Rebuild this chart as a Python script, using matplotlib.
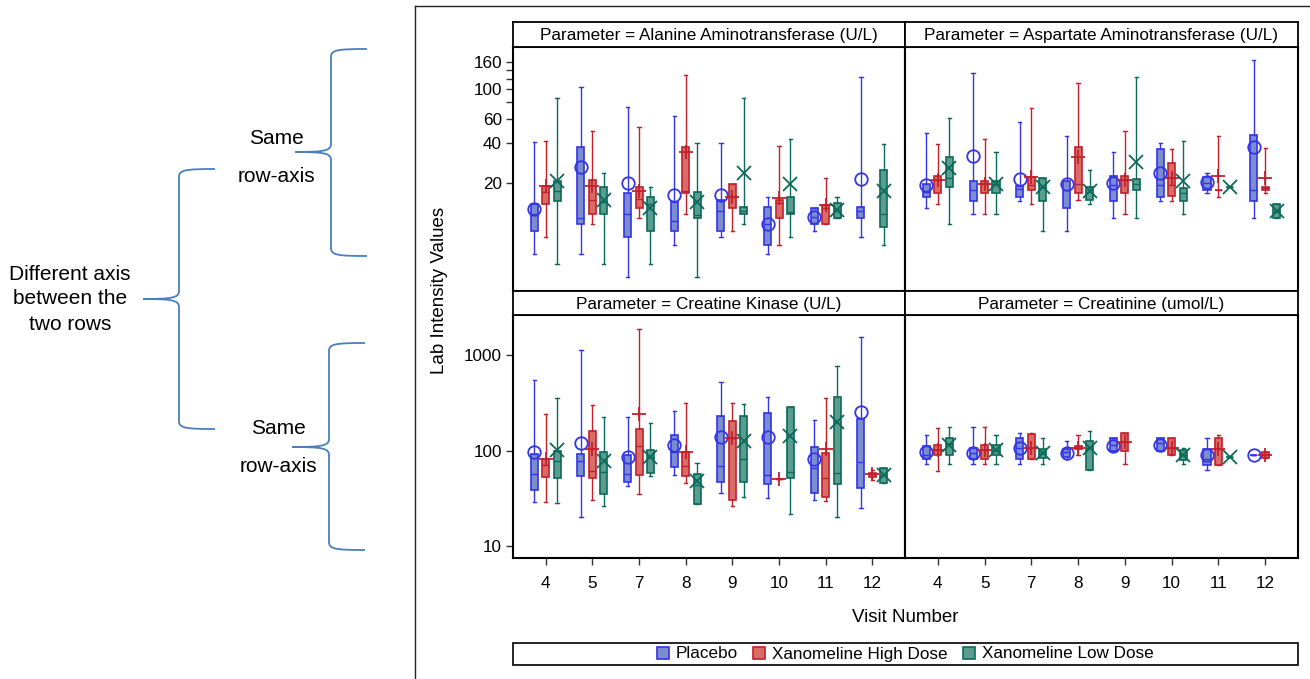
import matplotlib
matplotlib.use('Agg')
import matplotlib.pyplot as plt
from matplotlib.patches import Patch, Rectangle, PathPatch
from matplotlib.path import Path
from matplotlib.lines import Line2D
from matplotlib.transforms import Affine2D

plt.rcParams['font.family'] = ['Liberation Sans', 'DejaVu Sans']

W, H = 1310, 679

visits = ['4', '5', '7', '8', '9', '10', '11', '12']
groups = ['Placebo', 'Xanomeline High Dose', 'Xanomeline Low Dose']

# per visit: (whisker low, Q1, median, Q3, whisker high, mean); None = no data
alt_placebo = [(6.0, 8.9, 11.8, 14.0, 40.8, 12.9), (6.0, 10.0, 11.0, 37.1, 104.6, 26.3),
               (4.0, 8.0, 11.8, 17.0, 74.2, 20.0), (7.0, 8.9, 10.5, 14.6, 63.3, 16.4),
               (8.0, 8.9, 12.5, 14.9, 39.6, 16.4), (6.0, 7.0, 10.0, 13.2, 15.9, 10.0),
               (8.9, 10.0, 11.3, 13.0, 13.0, 11.3), (8.0, 11.0, 12.5, 13.4, 124.0, 21.4)]
alt_high = [(8.0, 14.0, 17.3, 19.2, 41.5, 19.2), (10.0, 11.8, 14.9, 21.2, 49.2, 19.2),
            (11.0, 13.0, 15.3, 18.9, 52.2, 17.5), (11.8, 17.0, 17.5, 37.1, 127.6, 34.4),
            (8.9, 13.0, 15.9, 19.8, 19.8, 15.9), (7.0, 11.0, 14.2, 14.9, 38.1, 15.5),
            (10.0, 10.0, 13.0, 13.8, 21.8, 13.8), None]
alt_low = [(5.0, 14.8, 17.5, 20.8, 86.5, 20.8), (5.0, 11.8, 14.6, 18.9, 24.0, 14.9),
           (5.0, 8.9, 14.0, 15.9, 18.9, 13.0), (4.0, 11.0, 11.6, 17.1, 39.6, 14.6),
           (10.0, 11.8, 12.5, 13.2, 86.5, 24.0), (8.0, 11.8, 12.2, 15.9, 42.7, 19.8),
           (11.0, 11.0, 12.6, 14.2, 15.9, 12.6), (7.0, 9.5, 11.8, 25.1, 39.0, 17.6)]

ast_placebo = [(13.0, 15.9, 17.3, 19.7, 47.1, 19.4), (11.8, 14.8, 17.8, 20.8, 132.8, 32.1),
               (14.8, 15.7, 18.1, 19.2, 57.4, 21.4), (8.9, 13.0, 17.8, 20.8, 45.2, 19.8),
               (11.1, 14.8, 19.4, 22.7, 34.4, 20.0), (14.8, 15.9, 19.4, 36.0, 39.6, 24.0),
               (17.0, 17.8, 20.2, 22.4, 24.0, 20.3), (11.1, 14.8, 17.8, 45.7, 165.0, 37.1)]
ast_high = [(14.0, 17.0, 21.2, 22.7, 39.0, 21.2), (11.8, 17.0, 19.7, 20.8, 42.7, 19.7),
            (14.0, 17.8, 19.4, 22.2, 73.0, 22.2), (14.9, 17.0, 19.8, 37.1, 112.0, 31.2),
            (11.8, 17.0, 21.2, 22.7, 49.2, 21.2), (14.8, 16.2, 19.4, 28.5, 36.0, 21.8),
            (15.7, 17.8, 17.8, 17.8, 45.2, 22.7), (17.0, 17.8, 18.3, 18.9, 36.8, 21.8)]
ast_low = [(10.0, 18.7, 21.8, 31.2, 61.5, 25.9), (11.8, 17.0, 19.7, 20.8, 34.4, 19.7),
           (8.9, 14.8, 18.9, 21.8, 21.8, 18.9), (14.0, 14.9, 17.3, 18.9, 25.1, 17.6),
           (11.1, 17.8, 19.7, 21.5, 122.8, 28.6), (11.8, 14.8, 17.0, 18.4, 41.5, 20.6),
           (18.9, 18.9, 18.9, 18.9, 18.9, 18.9), (11.1, 11.1, 12.5, 14.0, 14.0, 12.5)]

ck_placebo = [(29.2, 38.8, 56.6, 91.7, 550, 97.6), (20.4, 54.3, 78.6, 92.4, 1133, 119.5),
              (42.7, 47.4, 56.6, 90.2, 227, 86.5), (55.7, 67.0, 97.6, 146, 260, 114.7),
              (36.3, 47.4, 69.1, 232.5, 528, 140), (31.7, 44.5, 55.7, 250, 367.6, 140),
              (30.5, 36.3, 65.4, 110.1, 209.7, 81.9), (24.9, 41.0, 76.7, 213, 1563, 252.5)]
ck_high = [(29.2, 53.5, 70.8, 81.9, 242, 81.9), (30.5, 52.2, 61.3, 162, 301, 103.4),
           (35.0, 55.7, 112, 167.5, 1868, 242), (45.6, 54.3, 69.7, 96.2, 318, 96.2),
           (26.5, 30.5, 134.8, 204.6, 318, 134.8), (50.5, 50.5, 50.5, 50.5, 50.5, 50.5),
           (29.7, 32.5, 52.2, 93.9, 354, 103.4), (49.3, 53.5, 56.6, 58.8, 62.8, 56.6)]
ck_low = [(28.5, 52.2, 78.6, 99.3, 354, 101.7), (26.5, 35.0, 60.3, 96.2, 227, 78.6),
          (54.3, 58.0, 86.5, 101.7, 193.6, 86.5), (27.5, 27.5, 43.7, 57.0, 73.8, 48.5),
          (32.5, 47.4, 81.3, 232.5, 306, 126.4), (21.6, 52.2, 60.3, 284.7, 284.7, 143.6),
          (20.4, 44.5, 58.0, 367.6, 771, 198), (46.2, 46.2, 55.7, 65.4, 65.4, 55.7)]

crea_placebo = [(72.1, 81.3, 90.2, 112, 146, 97.6), (72.1, 81.3, 93.9, 105.9, 178.4, 93.9),
                (72.1, 81.3, 105.9, 134.8, 152, 107.5), (81.9, 86.5, 97.6, 104.2, 126.4, 95.3),
                (99.3, 99.3, 114.7, 134.8, 134.8, 112.8), (99.3, 99.3, 119.5, 134.8, 134.8, 114.7),
                (62.8, 70.8, 81.3, 103.4, 134.8, 90.2), (90.2, 90.2, 90.2, 90.2, 90.2, 90.2)]
crea_high = [(61.7, 90.2, 101.7, 114.7, 171.7, 101.7), (72.1, 81.3, 101.7, 114.7, 178.4, 101.7),
             (81.3, 81.3, 107.5, 148.5, 152, 107.5), (90.2, 104.2, 107.5, 112, 146, 107.5),
             (72.1, 99.3, 124.2, 152, 152, 124.2), (90.2, 90.2, 105.9, 134.8, 134.8, 107.5),
             (70.8, 70.8, 103.4, 134.8, 146, 103.4), (83.3, 83.3, 90.2, 97.6, 97.6, 90.2)]
crea_low = [(72.1, 90.2, 117.5, 134.8, 178.4, 114.7), (72.1, 90.2, 101.7, 114.7, 146, 101.7),
            (72.1, 84.5, 93.9, 104.2, 134.8, 93.9), (62.8, 62.8, 107.5, 126.4, 160.8, 107.5),
            None, (72.1, 80.0, 90.2, 101.7, 105.9, 90.2),
            (85.3, 85.3, 85.3, 85.3, 85.3, 85.3), None]

panels = [
    ('Parameter = Alanine Aminotransferase (U/L)', [alt_placebo, alt_high, alt_low]),
    ('Parameter = Aspartate Aminotransferase (U/L)', [ast_placebo, ast_high, ast_low]),
    ('Parameter = Creatine Kinase (U/L)', [ck_placebo, ck_high, ck_low]),
    ('Parameter = Creatinine (umol/L)', [crea_placebo, crea_high, crea_low]),
]

edge_colors = ['#3434e8', '#c4202c', '#0c6a5a']
fill_colors = ['#7b8ccf', '#d96c66', '#5a9c8f']
mean_markers = ['o', '+', 'x']
offsets = [-0.245, 0.0, 0.245]

fig = plt.figure(figsize=(W / 100, H / 100), dpi=100)
px = Affine2D().scale(1 / W, -1 / H).translate(0, 1) + fig.transFigure


def fx(x):
    return x / W


def fy(y):
    return 1 - y / H


def draw_group(ax, rows, gi):
    stats, pos = [], []
    for i, r in enumerate(rows):
        if r is None:
            continue
        lo, q1, med, q3, hi, mean = r
        stats.append(dict(whislo=lo, q1=q1, med=med, q3=q3, whishi=hi, mean=mean, fliers=[]))
        pos.append(i + offsets[gi])
    ec, fc = edge_colors[gi], fill_colors[gi]
    ax.bxp(stats, positions=pos, widths=0.15, capwidths=0.07, patch_artist=True,
           showmeans=True, showfliers=False, manage_ticks=False,
           boxprops=dict(facecolor=fc, edgecolor=ec, linewidth=1.2),
           whiskerprops=dict(color=ec, linewidth=1.0),
           capprops=dict(color=ec, linewidth=1.0),
           medianprops=dict(color=ec, linewidth=1.0),
           meanprops=dict(marker=mean_markers[gi], markerfacecolor='none',
                          markeredgecolor=ec, markersize=9 if gi == 0 else 10,
                          markeredgewidth=1.3, linestyle='none'))


cols = [(513, 905), (905, 1298)]
rows_px = [((22, 47), (47, 291)), ((291, 315), (315, 558))]

axes = []
for k, (title, data) in enumerate(panels):
    r, c = divmod(k, 2)
    x0, x1 = cols[c]
    (h0, h1), (p0, p1) = rows_px[r]
    ax = fig.add_axes([fx(x0), fy(p1), fx(x1 - x0), (p1 - p0) / H])
    hax = fig.add_axes([fx(x0), fy(h1), fx(x1 - x0), (h1 - h0) / H])
    hax.set_xticks([])
    hax.set_yticks([])
    for s in hax.spines.values():
        s.set_linewidth(1.3)
    hax.text(0.5, 0.45, title, ha='center', va='center', fontsize=12.3,
             transform=hax.transAxes)

    for gi, rows in enumerate(data):
        draw_group(ax, rows, gi)

    ax.set_yscale('log')
    ax.set_xlim(-0.7, 7.7)
    ax.minorticks_off()
    if r == 0:
        ax.set_ylim(3.16, 206)
        ax.set_yticks([20, 40, 60, 80, 100, 120, 140, 160])
        ax.set_yticklabels(['20', '40', '60', '', '100', '', '', '160'])
    else:
        ax.set_ylim(7.5, 2636)
        ax.set_yticks([10, 100, 1000])
        ax.set_yticklabels(['10', '100', '1000'])
    ax.set_xticks(range(len(visits)))
    ax.set_xticklabels(visits)
    ax.tick_params(axis='both', labelsize=12.3, length=5, width=1, color='#333333')
    ax.tick_params(axis='x', pad=8)
    ax.tick_params(axis='y', pad=3)
    if r == 0:
        ax.tick_params(axis='x', bottom=False, labelbottom=False)
    if c == 1:
        ax.tick_params(axis='y', left=False, labelleft=False)
    for s in ax.spines.values():
        s.set_linewidth(1.5)
    axes.append(ax)

fig.text(fx(440), fy(290), 'Lab Intensity Values', rotation=90, ha='center',
         va='center', fontsize=13.5)
fig.text(fx(905), fy(617), 'Visit Number', ha='center', va='center', fontsize=13.5)

# legend strip
fig.add_artist(Rectangle((fx(513), fy(665)), fx(1298 - 513), 22 / H, transform=fig.transFigure,
                         facecolor='white', edgecolor='black', linewidth=1.2))
handles = [Patch(facecolor=fill_colors[i], edgecolor=edge_colors[i], linewidth=1.2, label=g)
           for i, g in enumerate(groups)]
fig.legend(handles=handles, loc='center', bbox_to_anchor=(fx(905), fy(654)), ncol=3,
           frameon=False, fontsize=12.3, handlelength=0.7, handleheight=0.7,
           handletextpad=0.4, columnspacing=0.9, borderpad=0.1)

# outer frame of the graph
fig.add_artist(Line2D([415, 415], [6, 679], transform=px, color='#222222', linewidth=1.0))
fig.add_artist(Line2D([415, 1310], [6, 6], transform=px, color='#222222', linewidth=1.0))

# braces and notes on the left
brace_color = '#4a7ebf'


def brace(xv, xe, xt, yt, ym, yb):
    verts = [(xe, yt), (xv + 6, yt), (xv, yt + 1), (xv, yt + 8),
             (xv, ym - 8),
             (xv, ym - 1), (xv - 8, ym), (xt, ym),
             (xv - 8, ym), (xv, ym + 1), (xv, ym + 8),
             (xv, yb - 8),
             (xv, yb - 1), (xv + 6, yb), (xe, yb)]
    codes = [Path.MOVETO, Path.CURVE4, Path.CURVE4, Path.CURVE4, Path.LINETO,
             Path.CURVE4, Path.CURVE4, Path.CURVE4, Path.CURVE4, Path.CURVE4, Path.CURVE4,
             Path.LINETO, Path.CURVE4, Path.CURVE4, Path.CURVE4]
    fig.add_artist(PathPatch(Path(verts, codes), transform=px, facecolor='none',
                             edgecolor=brace_color, linewidth=1.3))


brace(331, 367, 295, 49, 152, 256)
brace(179, 215, 143, 169, 299, 429)
brace(329, 365, 292, 343, 447, 550)

note_kw = dict(ha='center', va='center', fontsize=15, transform=px)
fig.text(276, 138, 'Same', **note_kw)
fig.text(276, 177, 'row-axis', **note_kw)
fig.text(278, 428, 'Same', **note_kw)
fig.text(278, 467, 'row-axis', **note_kw)
fig.text(70, 299, 'Different axis\nbetween the\ntwo rows', ha='center', va='center',
         fontsize=15, linespacing=1.4, transform=px)

fig.savefig('out.png', dpi=100)
